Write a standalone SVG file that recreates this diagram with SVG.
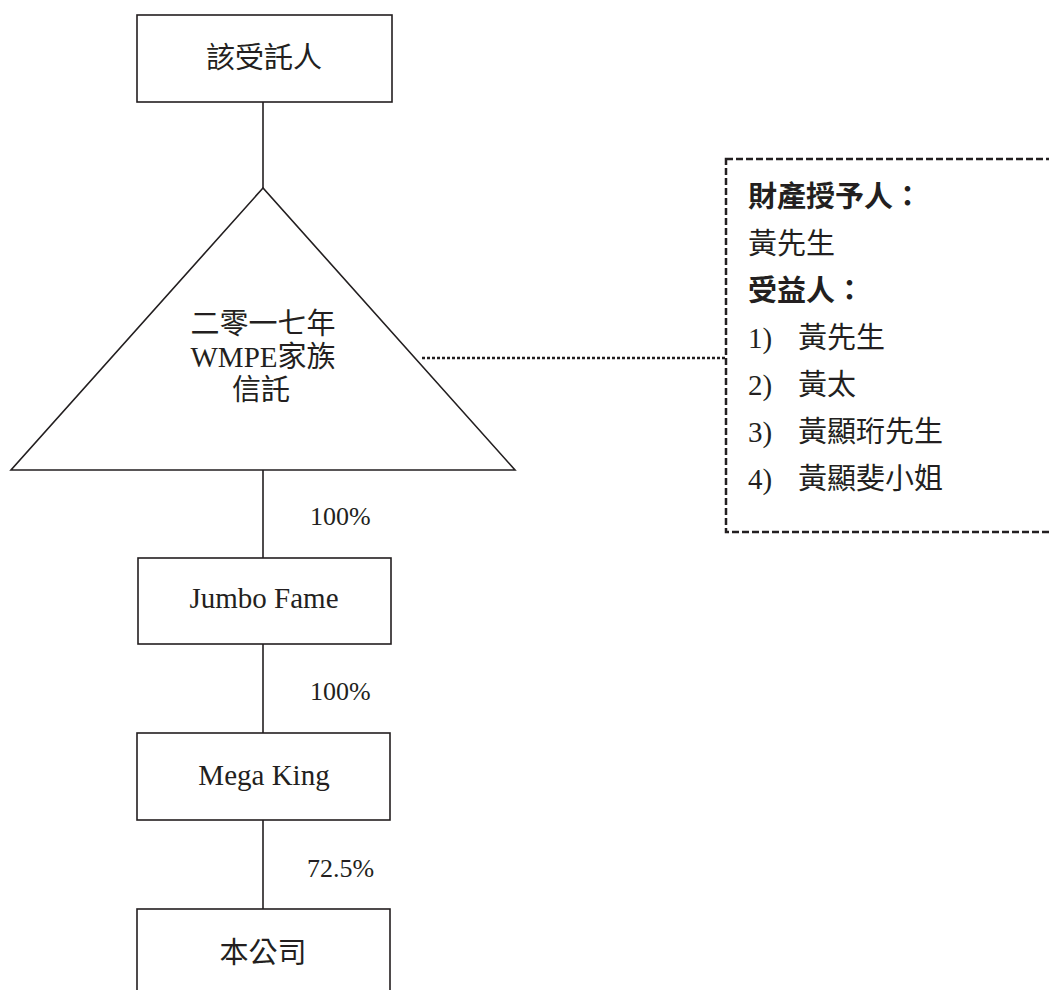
<svg xmlns="http://www.w3.org/2000/svg" width="1049" height="990" viewBox="0 0 1049 990">
<style>
.box{fill:#fff;stroke:#231f20;stroke-width:1.6}
.ln{stroke:#231f20;stroke-width:1.6;fill:none}
.dot{stroke:#231f20;stroke-width:2.5;stroke-dasharray:3 2;fill:none}
.dash{stroke:#231f20;stroke-width:2.5;stroke-dasharray:7 3;fill:none}
text{font-family:"Liberation Serif","Noto Sans CJK TC",serif;font-size:29px;fill:#231f20}
.p{font-size:26px}
.c{text-anchor:middle}
.b{font-weight:bold}
</style>
<rect width="1049" height="990" fill="#fff"/>
<g id="connectors">
<line class="ln" x1="263" y1="102" x2="263" y2="188"/>
<line class="ln" x1="263" y1="470" x2="263" y2="558"/>
<line class="ln" x1="263" y1="644" x2="263" y2="733"/>
<line class="ln" x1="263" y1="820" x2="263" y2="909"/>
<line class="dot" x1="422" y1="358" x2="726" y2="358"/>
<text class="p" x="310" y="525">100%</text>
<text class="p" x="310" y="700">100%</text>
<text class="p" x="307" y="877">72.5%</text>
</g>
<g id="trustee">
<rect class="box" x="137" y="15" width="255" height="87"/>
<text class="c" x="264" y="68">該受託人</text>
</g>
<g id="trust">
<polygon class="box" points="263,188 11,470 515,470"/>
<text class="c" x="263" y="334">二零一七年</text>
<text class="c" x="263" y="367">WMPE家族</text>
<text class="c" x="261" y="400">信託</text>
</g>
<g id="jumbo">
<rect class="box" x="138" y="558" width="253" height="86"/>
<text class="c" x="264" y="608">Jumbo Fame</text>
</g>
<g id="mega">
<rect class="box" x="137" y="733" width="253" height="87"/>
<text class="c" x="264" y="785">Mega King</text>
</g>
<g id="company">
<rect class="box" x="137" y="909" width="253" height="100"/>
<text class="c" x="263" y="963">本公司</text>
</g>
<g id="info">
<rect class="dash" x="726" y="159" width="340" height="373"/>
<text class="b" x="748" y="207">財產授予人：</text>
<text x="748" y="254">黃先生</text>
<text class="b" x="748" y="301">受益人：</text>
<text x="748" y="348">1)</text><text x="798" y="348">黃先生</text>
<text x="748" y="395">2)</text><text x="798" y="395">黃太</text>
<text x="748" y="442">3)</text><text x="798" y="442">黃顯珩先生</text>
<text x="748" y="489">4)</text><text x="798" y="489">黃顯斐小姐</text>
</g>
</svg>
